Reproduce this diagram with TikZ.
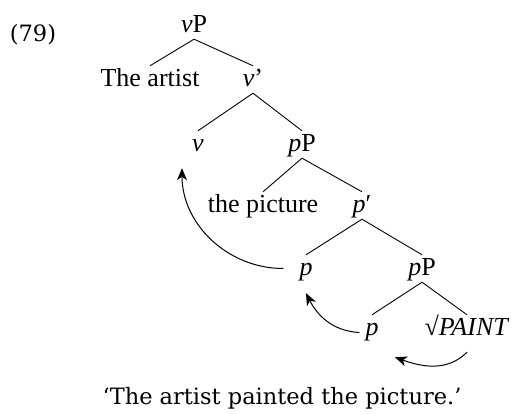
\documentclass[tikz,border=0pt]{standalone}
\usepackage{fontspec}
\setmainfont{Liberation Serif}
\newfontfamily\glossfont{DejaVu Serif}
\usetikzlibrary{arrows.meta,calc}
\begin{document}
\begin{tikzpicture}[x=1pt,y=1pt,
  lab/.style={anchor=base, font=\fontsize{26}{30}\selectfont, text height=19pt, text depth=4pt, inner sep=2pt},
  gl/.style={anchor=base, font=\glossfont\fontsize{22.5}{27}\selectfont, inner sep=0pt},
  branch/.style={line width=0.9pt},
  mv/.style={line width=1pt, -{Stealth[length=12pt,width=10pt,inset=3.5pt]}}]
\useasboundingbox (0,0) rectangle (513,414);
% example number and gloss
\node[gl] (ex) at (33,372) {(79)};
\node[gl] (gloss) at (282,9) {‘The artist painted the picture.’};
% tree nodes
\node[lab] (vP) at (194,381) {\textit{v}P};
\node[lab] (artist) at (150,327) {The artist};
\node[lab] (vbar) at (253,327) {\textit{v}’};
\node[lab] (v) at (198,262) {\textit{v}};
\node[lab] (pP1) at (302,262) {\textit{p}P};
\node[lab] (pic) at (263,201) {the picture};
\node[lab] (pbar) at (362,201) {\textit{p}′};
\node[lab] (p1) at (306,138) {\textit{p}};
\node[lab] (pP2) at (422,138) {\textit{p}P};
\node[lab] (p2) at (372,78) {\textit{p}};
\node[lab] (root) at (467,78) {√\textit{PAINT}};
% branches
\draw[branch] (vP.south) -- (artist.north);
\draw[branch] (vP.south) -- (vbar.north);
\draw[branch] (vbar.south) -- (v.north);
\draw[branch] (vbar.south) -- (pP1.north);
\draw[branch] (pP1.south) -- (pic.north);
\draw[branch] (pP1.south) -- (pbar.north);
\draw[branch] (pbar.south) -- (p1.north);
\draw[branch] (pbar.south) -- (pP2.north);
\draw[branch] (pP2.south) -- (p2.north);
\draw[branch] (pP2.south) -- (root.north);
% movement arrows
\coordinate (a1s) at ($(p1.west)+(-14,0)$);
\coordinate (a1e) at ($(v.south)+(-16,-10)$);
\coordinate (a2s) at ($(p2.west)+(-4,-4)$);
\coordinate (a2e) at ($(p1.south)+(0,-11)$);
\coordinate (a3s) at ($(root.south)+(0,-10)$);
\coordinate (a3e) at ($(p2.south)+(23,-15)$);
\draw[mv] (a1s) to[out=180,in=-90] (a1e);
\draw[mv] (a2s) to[out=177,in=-63] (a2e);
\draw[mv] (a3s) to[out=-135,in=-20] (a3e);
\end{tikzpicture}
\end{document}
